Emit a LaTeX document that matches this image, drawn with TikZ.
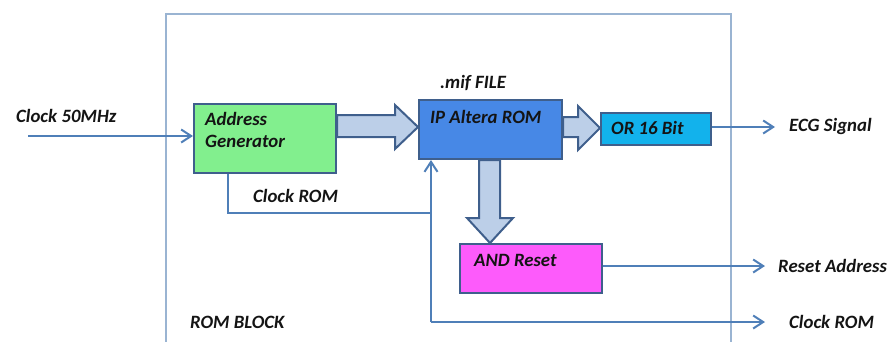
\documentclass[tikz,border=0pt]{standalone}
\usepackage{fontspec}
\setmainfont{Carlito}
\usetikzlibrary{arrows.meta,calc}
\definecolor{edgeblue}{HTML}{3F5F8C}
\definecolor{lineblue}{HTML}{4F7FB8}
\definecolor{frameblue}{HTML}{9AB4D2}
\definecolor{fatfill}{HTML}{BCCFE8}
\definecolor{greenbox}{HTML}{82EF8E}
\definecolor{romblue}{HTML}{4788E6}
\definecolor{orcyan}{HTML}{12B2EC}
\definecolor{andpink}{HTML}{FD5BFB}
\definecolor{txt}{HTML}{141414}
\tikzset{
  box/.style={draw=edgeblue, line width=2pt, anchor=north west, inner sep=0pt},
  lbl/.style={font=\fontsize{18.8}{22}\selectfont\bfseries\itshape, text=txt, inner sep=0pt, anchor=west},
  conn/.style={draw=lineblue, line width=2pt},
  arr/.style={conn, -{Straight Barb[length=10pt,width=13pt,line width=2pt]}},
  fat/.style={draw=edgeblue, fill=fatfill, line width=2pt, line join=miter},
}
\begin{document}
\begin{tikzpicture}[x=1pt,y=-1pt]
\useasboundingbox (0,0) rectangle (894,341);
% ROM block frame
\draw[draw=frameblue, line width=1.5pt] (166,345) -- (166,14) -- (731,14) -- (731,345);
% boxes
\node[box, fill=greenbox, minimum width=142pt, minimum height=69pt] (ag) at (193,103) {};
\node[box, fill=romblue, minimum width=143pt, minimum height=59pt] (ip) at (418,99) {};
\node[box, fill=orcyan, minimum width=110pt, minimum height=32pt] (or) at (600,112) {};
\node[box, fill=andpink, minimum width=142pt, minimum height=49pt] (and) at (459,243) {};
% box texts
\node[lbl] (agt1) at (205,119) {Address};
\node[lbl] (agt2) at (205,141) {Generator};
\node[lbl] (ipt) at (430,117) {IP Altera ROM};
\node[lbl] (ort) at (611,128) {OR 16 Bit};
\node[lbl] (andt) at (474,260) {AND Reset};
\node[lbl] (mif) at (440,83) {.mif FILE};
% fat arrows
\draw[fat] (ag.east |- 0,115) -- (395,115) -- (395,105) -- (ip.west |- 0,127) -- (395,149) -- (395,137) -- (ag.east |- 0,137) -- cycle;
\draw[fat] (ip.east |- 0,117) -- (578,117) -- (578,106) -- (or.west |- 0,128) -- (578,150) -- (578,137) -- (ip.east |- 0,137) -- cycle;
\draw[fat] (479,0 |- ip.south) -- (479,218) -- (467,218) -- (490,0 |- and.north) -- (513,218) -- (500,218) -- (500,0 |- ip.south) -- cycle;
% inputs / outputs
\coordinate (clkin) at (28,136);
\node[lbl] (clk) at (16,116) {Clock 50MHz};
\draw[arr] (clkin) -- (ag.west |- clkin);
\coordinate (ecgend) at (775,127);
\draw[arr] (or.east |- ecgend) -- (ecgend);
\node[lbl] (ecg) at (789,126) {ECG Signal};
\coordinate (rstend) at (765,266);
\draw[arr] (and.east |- rstend) -- (rstend);
\node[lbl] (rst) at (778,266) {Reset Address};
% clock ROM routing
\coordinate (j) at (431,213);
\coordinate (b) at (431,322);
\coordinate (ckend) at (765,322);
\draw[conn, line join=miter] ([xshift=35pt]ag.south west) |- (j);
\draw[arr] (b) -- (b |- ip.south);
\draw[arr] (b) -- (ckend);
\node[lbl] (ckr) at (253,196) {Clock ROM};
\node[lbl] (cko) at (789,322) {Clock ROM};
\node[lbl] (rb) at (190,322) {ROM BLOCK};
\end{tikzpicture}
\end{document}
